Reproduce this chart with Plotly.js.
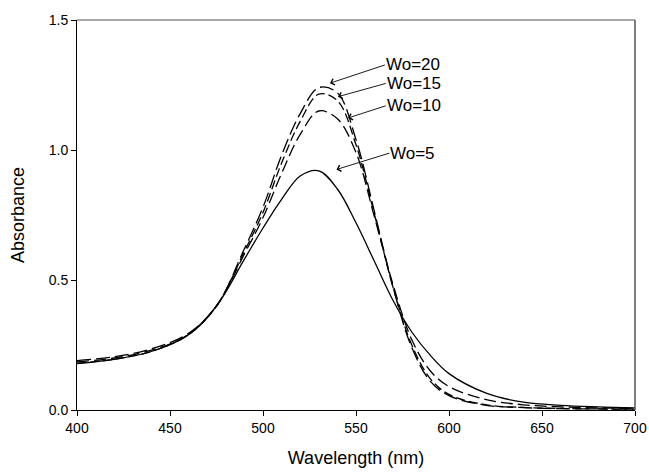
<!DOCTYPE html>
<html>
<head>
<meta charset="utf-8">
<script src="https://cdn.plot.ly/plotly-3.0.1.min.js"></script>
<style>html,body{margin:0;padding:0;background:#fff;}#chart{width:649px;height:475px;}</style>
</head>
<body>
<div id="chart"></div>
<script>
const wavelength = [400, 420, 440, 460, 475, 490, 500, 510, 520, 530, 540, 550, 560, 570, 580, 590, 600, 620, 640, 660, 680, 700];
const wo5  = [0.178, 0.195, 0.225, 0.29, 0.40, 0.58, 0.70, 0.81, 0.90, 0.92, 0.85, 0.72, 0.57, 0.42, 0.30, 0.21, 0.14, 0.065, 0.03, 0.018, 0.012, 0.008];
const wo10 = [0.185, 0.20, 0.23, 0.29, 0.40, 0.60, 0.74, 0.91, 1.06, 1.15, 1.12, 0.99, 0.74, 0.48, 0.27, 0.15, 0.09, 0.04, 0.02, 0.012, 0.008, 0.006];
const wo15 = [0.18, 0.195, 0.225, 0.29, 0.40, 0.61, 0.76, 0.95, 1.11, 1.215, 1.19, 1.02, 0.75, 0.47, 0.25, 0.12, 0.06, 0.02, 0.01, 0.006, 0.004, 0.003];
const wo20 = [0.19, 0.205, 0.235, 0.295, 0.40, 0.62, 0.78, 0.98, 1.14, 1.24, 1.22, 1.04, 0.76, 0.47, 0.24, 0.11, 0.055, 0.018, 0.009, 0.005, 0.004, 0.003];

const labels = ["Wo=20", "Wo=15", "Wo=10", "Wo=5"];
const tipX = [536.0, 540.3, 545.7, 539.5];
const tipY = [1.257, 1.205, 1.123, 0.925];
const tailX = [565.5, 566.0, 566.0, 568.0];
const tailY = [1.327, 1.256, 1.17, 0.988];

const xTicks = [400, 450, 500, 550, 600, 650, 700];
const yTicks = [0.0, 0.5, 1.0, 1.5];
const yTickText = ["0.0", "0.5", "1.0", "1.5"];

const FONT = "Liberation Sans, Arial, sans-serif";
function tr(y, dash) {
  return {x: wavelength, y: y, type: "scatter", mode: "lines",
    line: {color: "#000", width: 1.3, dash: dash, shape: "spline", smoothing: 1},
    showlegend: false, hoverinfo: "skip"};
}
const data = [
  tr(wo5, "solid"),
  tr(wo10, "12px,5px"),
  tr(wo15, "9px,4px"),
  tr(wo20, "14px,5px")
];

const annotations = labels.map((t, i) => ({
  x: tipX[i], y: tipY[i], xref: "x", yref: "y",
  ax: tailX[i], ay: tailY[i], axref: "x", ayref: "y",
  text: t, showarrow: true, arrowhead: 4, arrowsize: 1.4, arrowwidth: 0.9,
  arrowcolor: "#000", xanchor: "left", yanchor: "middle", borderpad: 0,
  font: {family: FONT, size: 17, color: "#000"}
}));

const layout = {
  width: 649, height: 475,
  margin: {l: 77, r: 14, t: 20, b: 65},
  paper_bgcolor: "#fff", plot_bgcolor: "#fff",
  font: {family: FONT, color: "#000"},
  xaxis: {
    range: [400, 700], tickvals: xTicks, ticks: "outside", ticklen: 5, tickwidth: 1,
    tickcolor: "#000", showline: true, linecolor: "#000", linewidth: 1,
    showgrid: false, zeroline: false, tickfont: {family: FONT, size: 14, color: "#000"},
    title: {text: "Wavelength (nm)", font: {family: FONT, size: 18, color: "#000"}, standoff: 16}
  },
  yaxis: {
    range: [0, 1.5], tickvals: yTicks, ticktext: yTickText, ticks: "outside", ticklen: 5, tickwidth: 1,
    tickcolor: "#000", showline: true, linecolor: "#000", linewidth: 1,
    showgrid: false, zeroline: false, tickfont: {family: FONT, size: 14, color: "#000"},
    title: {text: "Absorbance", font: {family: FONT, size: 18, color: "#000"}, standoff: 19}
  },
  shapes: [
    {type: "line", xref: "paper", yref: "paper", x0: 0, x1: 1, y0: 1, y1: 1, line: {color: "#555", width: 1}},
    {type: "line", xref: "paper", yref: "paper", x0: 1, x1: 1, y0: 0, y1: 1, line: {color: "#555", width: 1.5}}
  ],
  annotations: annotations
};

Plotly.newPlot("chart", data, layout, {staticPlot: true, displayModeBar: false});
</script>
</body>
</html>
